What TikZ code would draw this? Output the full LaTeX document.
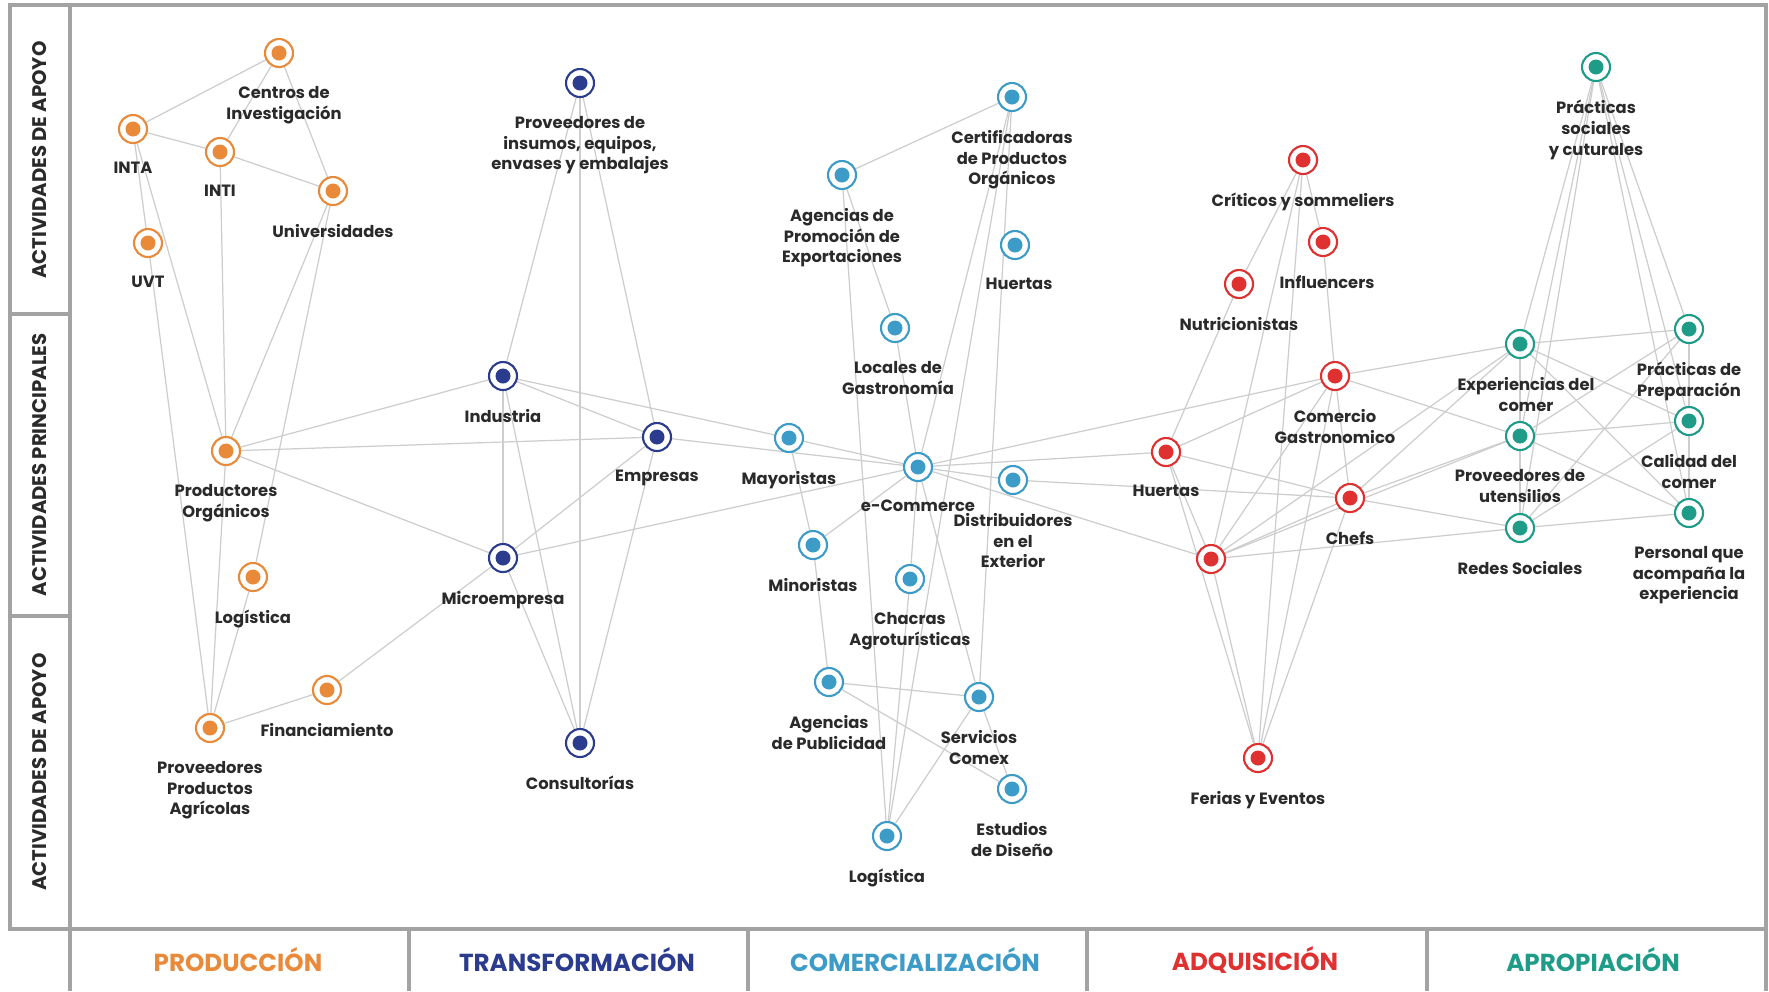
\documentclass[tikz,border=0pt]{standalone}
\usepackage{fontspec}
\setmainfont{Poppins}
\usetikzlibrary{backgrounds}

\definecolor{cprod}{HTML}{E98A3A}
\definecolor{ctran}{HTML}{2B3C8E}
\definecolor{ccom}{HTML}{3D9BC8}
\definecolor{cadq}{HTML}{E03131}
\definecolor{capr}{HTML}{1E9C87}
\definecolor{clink}{HTML}{CDCDCD}
\definecolor{cborder}{HTML}{A3A3A3}
\definecolor{ctext}{HTML}{2A2A2A}

\newcommand{\ringsize}{2.8mm}
\newcommand{\dotr}{0.75mm}
\newcommand{\ldist}{1.75mm}

\tikzset{
  actor/.style={circle, draw=#1, fill=white, line width=0.6pt, minimum size=\ringsize,
    inner sep=0pt,
    path picture={\fill[#1] (path picture bounding box.center) circle (\dotr);}},
  lbl/.style={font=\fontsize{4.65}{5.9}\selectfont\bfseries, align=center, text=ctext,
    inner sep=0pt, yshift=-\ldist},
  link/.style={draw=clink, line width=0.35pt},
  border/.style={draw=cborder, line width=0.9pt},
  stagehead/.style={font=\fontsize{7}{8}\selectfont\bfseries},
  rowhead/.style={font=\fontsize{5.6}{6}\selectfont\bfseries, text=ctext, rotate=90},
}

\begin{document}
\begin{tikzpicture}[x=0.1mm, y=-0.1mm]
        %\draw[help lines] (0,0) grid[step=100] (1769,991);
        \useasboundingbox (0,0) rectangle (1769,991);

        % frame
        \draw[border] (10,5) rectangle (1766,929);
        \draw[border] (70,5) -- (70,991);
        \draw[border] (10,314) -- (70,314);
        \draw[border] (10,616) -- (70,616);
        \foreach \x in {409,748,1087,1427,1766}
            \draw[border] (\x,929) -- (\x,991);

        \node[rowhead] (apoyoA) at (40,160) {ACTIVIDADES DE APOYO};
        \node[rowhead] (princ) at (40,465) {ACTIVIDADES PRINCIPALES};
        \node[rowhead] (apoyoB) at (40,772) {ACTIVIDADES DE APOYO};

        \node[stagehead, text=cprod] (sprod) at (238,960) {PRODUCCIÓN};
        \node[stagehead, text=ctran] (stran) at (577,960) {TRANSFORMACIÓN};
        \node[stagehead, text=ccom] (scomer) at (915,960) {COMERCIALIZACIÓN};
        \node[stagehead, text=cadq] (sadq) at (1255,960) {ADQUISICIÓN};
        \node[stagehead, text=capr] (sapr) at (1593,960) {APROPIACIÓN};

        % produccion
        \node[actor=cprod, label={[lbl, xshift=0.5mm]below:{Centros de\\Investigación}}] (cen) at (279,53) {};
        \node[actor=cprod, label={[lbl]below:INTA}] (inta) at (133,129) {};
        \node[actor=cprod, label={[lbl]below:INTI}] (inti) at (220,152) {};
        \node[actor=cprod, label={[lbl]below:Universidades}] (univ) at (333,191) {};
        \node[actor=cprod, label={[lbl]below:UVT}] (uvt) at (148,243) {};
        \node[actor=cprod, label={[lbl]below:{Productores\\Orgánicos}}] (prod) at (226,451) {};
        \node[actor=cprod, label={[lbl]below:Logística}] (logO) at (253,577) {};
        \node[actor=cprod, label={[lbl]below:Financiamiento}] (fin) at (327,690) {};
        \node[actor=cprod, label={[lbl]below:{Proveedores\\Productos\\Agrícolas}}] (ppa) at (210,728) {};

        % transformacion
        \node[actor=ctran, label={[lbl]below:{Proveedores de\\insumos, equipos,\\envases y embalajes}}] (pins) at (580,83) {};
        \node[actor=ctran, label={[lbl]below:Industria}] (ind) at (503,376) {};
        \node[actor=ctran, label={[lbl]below:Empresas}] (emp) at (657,437) {};
        \node[actor=ctran, label={[lbl]below:Microempresa}] (mic) at (503,558) {};
        \node[actor=ctran, label={[lbl]below:Consultorías}] (cons) at (580,743) {};

        % comercializacion
        \node[actor=ccom, label={[lbl]below:{Agencias de\\Promoción de\\Exportaciones}}] (apex) at (842,175) {};
        \node[actor=ccom, label={[lbl]below:{Certificadoras\\de Productos\\Orgánicos}}] (cert) at (1012,97) {};
        \node[actor=ccom, label={[lbl, xshift=0.4mm]below:Huertas}] (hueB) at (1015,245) {};
        \node[actor=ccom, label={[lbl, xshift=0.3mm]below:{Locales de\\Gastronomía}}] (loc) at (895,328) {};
        \node[actor=ccom, label={[lbl]below:Mayoristas}] (may) at (789,438) {};
        \node[actor=ccom, label={[lbl]below:e-Commerce}] (ecom) at (918,467) {};
        \node[actor=ccom, label={[lbl]below:{Distribuidores\\en el\\Exterior}}] (dist) at (1013,480) {};
        \node[actor=ccom, label={[lbl]below:Minoristas}] (mino) at (813,545) {};
        \node[actor=ccom, label={[lbl]below:{Chacras\\Agroturísticas}}] (cha) at (910,579) {};
        \node[actor=ccom, label={[lbl]below:{Agencias\\de Publicidad}}] (apub) at (829,682) {};
        \node[actor=ccom, label={[lbl]below:{Servicios\\Comex}}] (scom) at (979,697) {};
        \node[actor=ccom, label={[lbl]below:{Estudios\\de Diseño}}] (est) at (1012,789) {};
        \node[actor=ccom, label={[lbl]below:Logística}] (logB) at (887,836) {};

        % adquisicion
        \node[actor=cadq, label={[lbl]below:Críticos y sommeliers}] (crit) at (1303,160) {};
        \node[actor=cadq, label={[lbl, xshift=0.4mm]below:Influencers}] (infl) at (1323,242) {};
        \node[actor=cadq, label={[lbl]below:Nutricionistas}] (nutr) at (1239,284) {};
        \node[actor=cadq, label={[lbl]below:{Comercio\\Gastronomico}}] (cgas) at (1335,376) {};
        \node[actor=cadq, label={[lbl]below:Huertas}] (hueR) at (1166,452) {};
        \node[actor=cadq, label={[lbl]below:Chefs}] (chef) at (1350,498) {};
        \node[actor=cadq] (hx) at (1211,559) {};
        \node[actor=cadq, label={[lbl]below:Ferias y Eventos}] (fer) at (1258,758) {};

        % apropiacion
        \node[actor=capr, label={[lbl]below:{Prácticas\\sociales\\y cuturales}}] (psoc) at (1596,67) {};
        \node[actor=capr, label={[lbl, xshift=0.6mm]below:{Experiencias del\\comer}}] (exp) at (1520,344) {};
        \node[actor=capr, label={[lbl]below:{Prácticas de\\Preparación}}] (prep) at (1689,329) {};
        \node[actor=capr, label={[lbl]below:{Proveedores de\\utensilios}}] (utens) at (1520,436) {};
        \node[actor=capr, label={[lbl]below:{Calidad del\\comer}}] (cal) at (1689,421) {};
        \node[actor=capr, label={[lbl]below:Redes Sociales}] (redes) at (1520,528) {};
        \node[actor=capr, label={[lbl]below:{Personal que\\acompaña la\\experiencia}}] (pers) at (1689,513) {};

        \begin{scope}[on background layer]
        \foreach \a/\b in {cen/inta, cen/inti, cen/univ, inta/inti, inti/univ, inta/uvt,
                inta/prod, inti/prod, univ/prod, univ/logO, uvt/ppa, prod/ppa, logO/ppa,
                ppa/fin, fin/mic, prod/ind, prod/emp, prod/mic}
            \draw[link] (\a) -- (\b);
        \foreach \a/\b in {pins/ind, pins/emp, pins/cons, ind/emp, ind/mic, ind/cons,
                ind/may, emp/mic, emp/cons, emp/ecom, mic/cons, mic/ecom}
            \draw[link] (\a) -- (\b);
        \foreach \a/\b in {apex/cert, apex/loc, apex/logB, loc/ecom, cert/ecom, cert/logB,
                cert/scom, may/ecom, may/mino, mino/ecom, mino/apub, ecom/cha, cha/logB,
                ecom/scom, ecom/dist, apub/scom, apub/est, scom/est, scom/logB,
                ecom/cgas, ecom/hueR, ecom/hx, dist/chef}
            \draw[link] (\a) -- (\b);
        \foreach \a/\b in {crit/nutr, nutr/hueR, crit/hx, crit/fer, crit/infl, infl/cgas,
                hueR/cgas, hueR/chef, hueR/hx, hueR/fer, cgas/hx, cgas/chef, cgas/fer,
                hx/chef, hx/fer, chef/fer,
                cgas/exp, cgas/utens, chef/exp, chef/utens, chef/redes, hx/exp, hx/utens, hx/redes}
            \draw[link] (\a) -- (\b);
        \foreach \a/\b in {psoc/exp, psoc/utens, psoc/redes, psoc/prep, psoc/cal, psoc/pers,
                exp/prep, exp/cal, exp/pers, exp/utens, utens/prep, utens/cal, utens/pers,
                utens/redes, redes/prep, redes/cal, redes/pers, prep/cal, cal/pers}
            \draw[link] (\a) -- (\b);
        \end{scope}

\end{tikzpicture}
\end{document}
